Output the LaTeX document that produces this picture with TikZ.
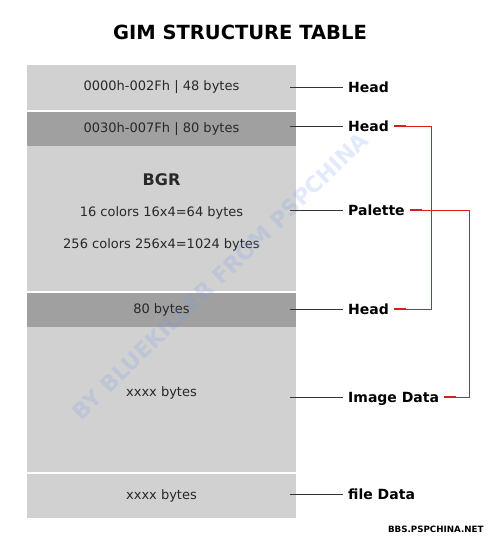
\documentclass[tikz,border=0pt]{standalone}
\usepackage{fontspec}
\setmainfont{DejaVu Sans}
\usetikzlibrary{positioning}

\definecolor{lightband}{RGB}{209,209,209}
\definecolor{darkband}{RGB}{160,160,160}
\definecolor{bandink}{RGB}{40,40,40}
\definecolor{linkred}{RGB}{215,30,30}
\definecolor{markblue}{RGB}{110,150,235}

\begin{document}
\begin{tikzpicture}[%
    x=1pt, y=-1pt,
    band/.style={rectangle, fill=lightband, minimum width=269pt, inner sep=0pt,
                 text=bandink, font=\fontsize{13}{15}\selectfont},
    headband/.style={band, fill=darkband},
    inband/.style={text=bandink, font=\fontsize{13}{15}\selectfont},
    field/.style={anchor=west, inner xsep=5pt, inner ysep=2pt, text height=10.2pt,
                  text depth=0pt, font=\bfseries\fontsize{14}{16}\selectfont},
    leader/.style={draw=black!80, line width=0.8pt},
    redlink/.style={draw=linkred, line width=0.7pt},
    redtick/.style={draw=linkred, line width=2.6pt}
  ]
    \fill[white] (0,0) rectangle (493,538);
    \useasboundingbox (0,0) rectangle (493,538);

    \node[font=\bfseries\fontsize{19.5}{22}\selectfont] (title) at (240,32) {GIM STRUCTURE TABLE};

    \node[band, minimum height=45pt]      (b1) at (161.5,87.5)  {0000h-002Fh | 48 bytes};
    \node[headband, minimum height=34pt]  (b2) at (161.5,129)   {0030h-007Fh | 80 bytes};
    \node[band, minimum height=145pt]     (b3) at (161.5,218.5) {};
    \node[headband, minimum height=34pt]  (b4) at (161.5,310)   {80 bytes};
    \node[band, minimum height=145pt]     (b5) at (161.5,399.5) {};
    \node[band, minimum height=44pt]      (b6) at (161.5,496)   {xxxx bytes};

    \node[inband, font=\bfseries\fontsize{16}{18}\selectfont] (bgr) at (161.5,180) {BGR};
    \node[inband] (c16)  at (161.5,213) {16 colors 16x4=64 bytes};
    \node[inband] (c256) at (161.5,245) {256 colors 256x4=1024 bytes};
    \node[inband] (img)  at (161.5,393) {xxxx bytes};

    \node[rotate=44, text=markblue, opacity=0.2,
          font=\bfseries\fontsize{22}{24}\selectfont] (mark) at (220,276) {BY BLUEKILLER FROM PSPCHINA};

    \node[field] (h1)   at (343,87)  {Head};
    \node[field] (h2)   at (343,126) {Head};
    \node[field] (pal)  at (343,210) {Palette};
    \node[field] (h3)   at (343,309) {Head};
    \node[field] (idat) at (343,397) {Image Data};
    \node[field] (fdat) at (343,494) {file Data};

    \foreach \f/\b in {h1/b1, h2/b2, pal/b3, h3/b4, idat/b5, fdat/b6}
      \draw[leader] (\f.west) -- ([xshift=-6pt]\f.west -| \b.east);

    \coordinate (hbus) at (431,0);
    \coordinate (pbus) at (469,0);
    \draw[redlink] (h2.east) -- (h2.east -| hbus) -- (h3.east -| hbus) -- (h3.east);
    \draw[redlink] (pal.east) -- (pal.east -| pbus) -- (idat.east -| pbus) -- (idat.east);
    \foreach \f in {h2, pal, h3, idat}
      \draw[redtick] (\f.east) -- ++(12,0);

    \node[anchor=east, font=\bfseries\fontsize{8.7}{10}\selectfont] (site) at (487,529) {BBS.PSPCHINA.NET};
  \end{tikzpicture}
\end{document}
